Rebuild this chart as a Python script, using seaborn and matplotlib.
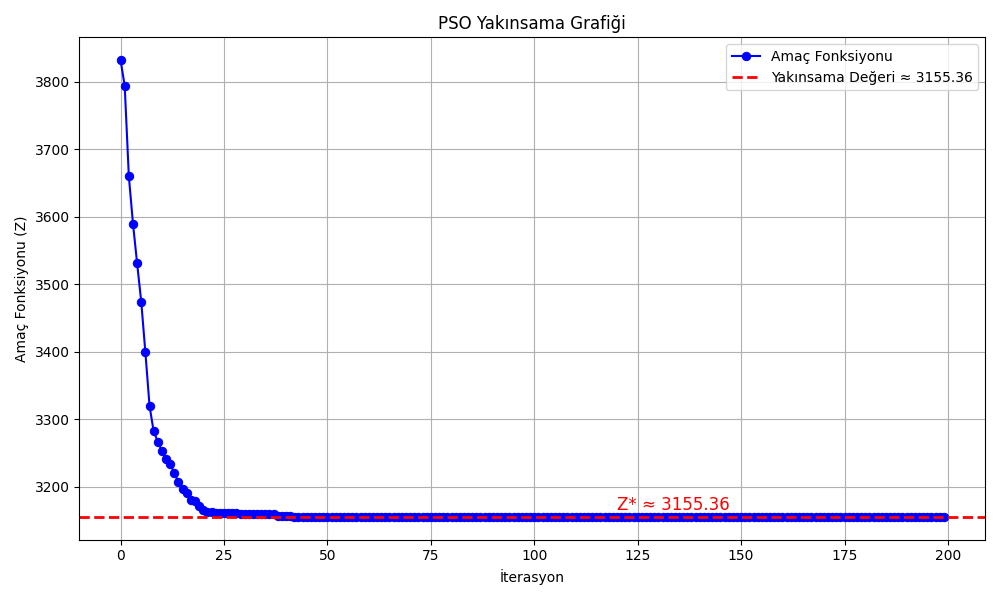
import matplotlib
matplotlib.use("Agg")
import matplotlib.pyplot as plt
import seaborn as sns
import pandas as pd

early_values = [3832, 3794, 3660, 3590, 3531, 3474, 3399, 3320, 3282, 3267,
                3253, 3241, 3234, 3220, 3207, 3197, 3191, 3180, 3179, 3172,
                3165, 3163, 3163, 3161, 3161, 3161, 3161, 3161, 3161, 3159,
                3159, 3159, 3159, 3159, 3159, 3159, 3159, 3159, 3157, 3157,
                3157, 3157]
final_value = 3155.36
values = early_values + [final_value] * (200 - len(early_values))
iterations = list(range(len(values)))

df = pd.DataFrame({"iter": iterations, "z": values})

fig, ax = plt.subplots(figsize=(10, 6), dpi=100)
sns.lineplot(data=df, x="iter", y="z", ax=ax, color="blue", marker="o",
             markersize=6, markeredgecolor="blue", label="Amaç Fonksiyonu")
ax.axhline(final_value, color="red", linestyle="--", linewidth=2,
           label=f"Yakınsama Değeri ≈ {final_value}")
ax.text(120, final_value + 10, f"Z* ≈ {final_value}", color="red", fontsize=12)
ax.set_title("PSO Yakınsama Grafiği")
ax.set_xlabel("İterasyon")
ax.set_ylabel("Amaç Fonksiyonu (Z)")
ax.grid(True)
ax.legend(loc="upper right")
fig.tight_layout()
fig.savefig("out.png")
